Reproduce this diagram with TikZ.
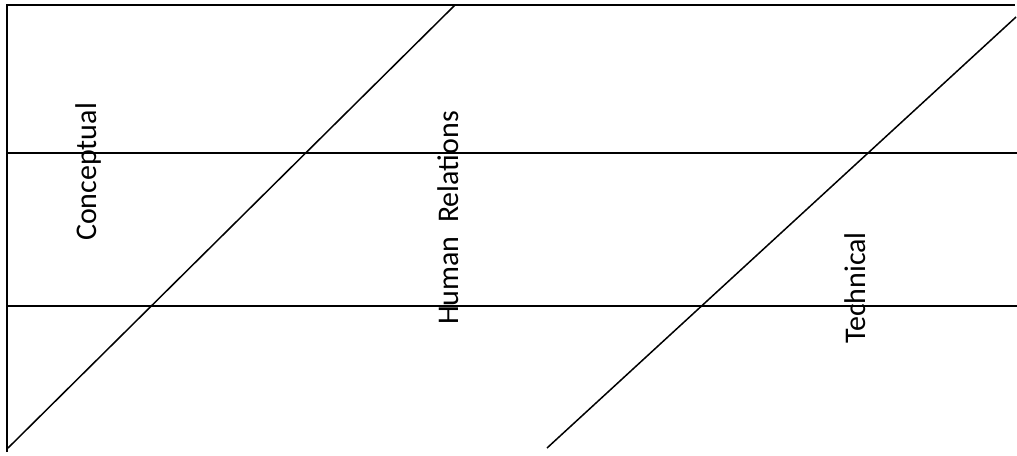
\documentclass[tikz,border=0pt]{standalone}
\usepackage{fontspec}
\setmainfont{Carlito}
\usepackage{tikz}

\begin{document}
\begin{tikzpicture}[x=0.4pt, y=-0.4pt, line width=0.7pt,
		skill/.style={rotate=90, inner sep=0pt, font=\fontsize{12}{14}\selectfont}]
		\useasboundingbox (0, 0) rectangle (1017, 455);
		\draw (7, 452) -- (7, 5) -- (1015, 5);
		\draw (7, 153) -- (1017, 153);
		\draw (7, 306) -- (1017, 306);
		\draw[line width=0.6pt] (8, 448) -- (455, 5);
		\draw[line width=0.6pt] (547, 448) -- (1016, 17);
		\node[skill] (conceptual) at (88, 172) {Conceptual};
		\node[skill] (human) at (448, 218) {Human\ \ Relations};
		\node[skill] (technical) at (855, 288) {Technical};
	\end{tikzpicture}
\end{document}
